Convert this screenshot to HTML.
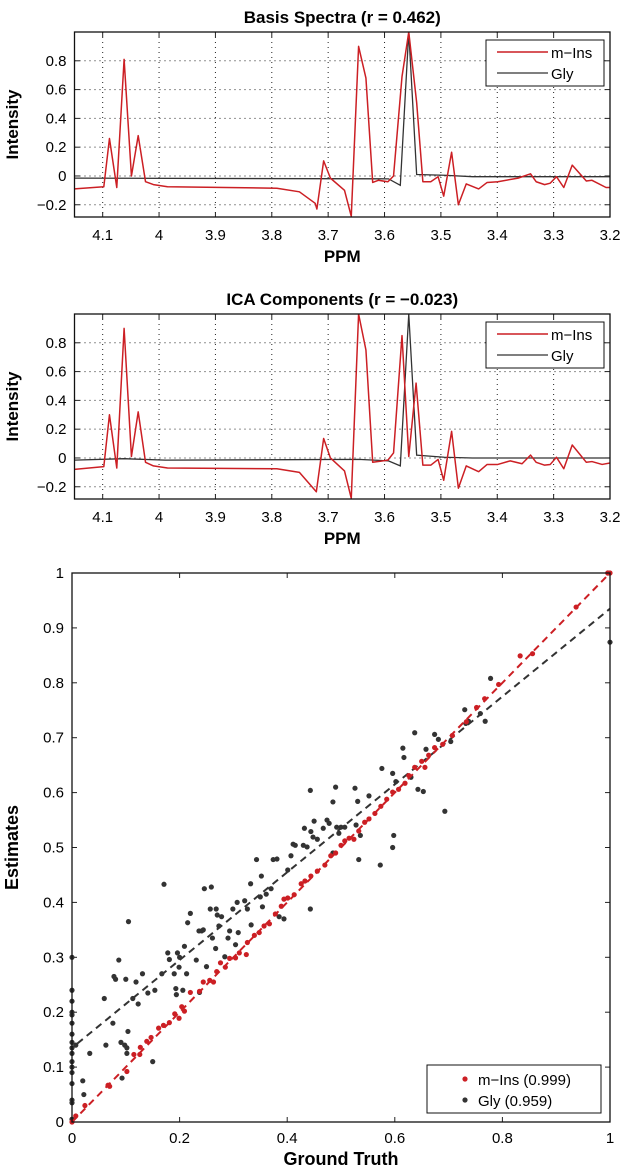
<!DOCTYPE html>
<html><head><meta charset="utf-8">
<style>
html,body{margin:0;padding:0;background:#fff;}
svg{display:block;font-family:"Liberation Sans",Arial,sans-serif;}
</style></head>
<body>
<svg id="fig" width="625" height="1172" viewBox="0 0 625 1172" xmlns="http://www.w3.org/2000/svg"></svg>
<script>
// ---- Spectra data ----
const basisInsPpm = [4.151,4.098,4.088,4.075,4.062,4.049,4.037,4.024,4.010,3.985,3.791,3.751,3.723,3.720,3.708,3.696,3.671,3.659,3.646,3.633,3.621,3.611,3.594,3.584,3.569,3.557,3.543,3.532,3.518,3.505,3.495,3.481,3.469,3.455,3.433,3.418,3.399,3.363,3.341,3.331,3.316,3.306,3.295,3.282,3.267,3.242,3.232,3.207,3.2];
const basisInsVal = [-0.09,-0.075,0.26,-0.08,0.81,0,0.28,-0.04,-0.06,-0.075,-0.085,-0.11,-0.19,-0.23,0.105,-0.015,-0.10,-0.28,0.90,0.68,-0.045,-0.03,-0.04,0,0.69,1.0,0.51,-0.04,-0.04,-0.005,-0.14,0.165,-0.2,-0.055,-0.09,-0.045,-0.04,-0.015,0.015,-0.04,-0.06,-0.05,-0.005,-0.08,0.075,-0.035,-0.03,-0.08,-0.08];
const basisGlyPpm = [4.151,3.593,3.572,3.557,3.543,3.494,3.444,3.2];
const basisGlyVal = [-0.015,-0.02,-0.065,1.0,0.01,0.005,-0.005,-0.005];

const icaInsPpm = [4.151,4.098,4.088,4.075,4.062,4.049,4.037,4.024,4.010,3.985,3.791,3.751,3.721,3.708,3.696,3.671,3.659,3.646,3.633,3.621,3.594,3.584,3.569,3.557,3.544,3.532,3.518,3.505,3.495,3.481,3.469,3.455,3.433,3.418,3.399,3.377,3.356,3.341,3.331,3.316,3.306,3.295,3.282,3.267,3.242,3.232,3.214,3.2];
const icaInsVal = [-0.08,-0.06,0.30,-0.07,0.90,0.01,0.32,-0.03,-0.055,-0.07,-0.075,-0.1,-0.235,0.135,0,-0.09,-0.28,1.0,0.75,-0.03,-0.015,0.035,0.85,0.01,0.52,-0.05,-0.05,-0.01,-0.155,0.185,-0.21,-0.055,-0.095,-0.045,-0.045,-0.02,-0.04,0.02,-0.03,-0.05,-0.045,0.005,-0.075,0.09,-0.03,-0.025,-0.045,-0.035];
const icaGlyPpm = [4.151,4.062,3.989,3.646,3.593,3.572,3.557,3.543,3.494,3.444,3.2];
const icaGlyVal = [-0.015,-0.005,-0.015,-0.01,-0.02,-0.055,1.0,0.02,0.005,0,0];

const ppmTicks = [4.1,4.0,3.9,3.8,3.7,3.6,3.5,3.4,3.3,3.2];
const ppmTickLabels = ["4.1","4","3.9","3.8","3.7","3.6","3.5","3.4","3.3","3.2"];
const intTicks = [-0.2,0,0.2,0.4,0.6,0.8];
const intTickLabels = ["\u22120.2","0","0.2","0.4","0.6","0.8"];

// ---- Scatter data ----
const glyTruth = [0,0,0,0,0,0,0,0,0,0,0,0,0,0,0,0,0,0.007,0.02,0.022,0.033,0.06,0.063,0.076,0.078,0.081,0.087,0.091,0.093,0.098,0.1,0.102,0.102,0.104,0.105,0.113,0.119,0.123,0.131,0.141,0.15,0.154,0.167,0.171,0.178,0.181,0.19,0.193,0.194,0.196,0.199,0.2,0.206,0.209,0.213,0.215,0.22,0.231,0.236,0.237,0.241,0.244,0.246,0.25,0.257,0.259,0.261,0.267,0.268,0.27,0.273,0.278,0.284,0.29,0.293,0.299,0.304,0.307,0.309,0.321,0.326,0.332,0.333,0.343,0.35,0.352,0.354,0.361,0.37,0.374,0.381,0.385,0.394,0.401,0.407,0.411,0.415,0.43,0.432,0.437,0.443,0.443,0.444,0.448,0.45,0.456,0.467,0.474,0.478,0.485,0.485,0.49,0.492,0.496,0.5,0.507,0.526,0.528,0.533,0.531,0.536,0.552,0.573,0.576,0.596,0.598,0.596,0.602,0.615,0.617,0.63,0.637,0.643,0.653,0.658,0.674,0.681,0.693,0.704,0.73,0.732,0.737,0.759,0.768,0.778,0.996,1];
const glyEst = [0.30,0.24,0.22,0.2,0.195,0.18,0.16,0.145,0.135,0.125,0.11,0.10,0.09,0.07,0.04,0.035,0.005,0.14,0.075,0.05,0.125,0.225,0.14,0.18,0.265,0.26,0.295,0.145,0.08,0.14,0.26,0.135,0.125,0.165,0.365,0.225,0.255,0.215,0.27,0.235,0.11,0.24,0.27,0.433,0.308,0.296,0.27,0.243,0.232,0.308,0.282,0.3,0.24,0.32,0.27,0.363,0.38,0.295,0.348,0.236,0.348,0.35,0.425,0.283,0.388,0.428,0.335,0.316,0.388,0.377,0.357,0.374,0.301,0.335,0.348,0.388,0.323,0.4,0.345,0.403,0.388,0.434,0.359,0.478,0.41,0.448,0.392,0.415,0.425,0.478,0.479,0.374,0.37,0.459,0.485,0.506,0.504,0.504,0.535,0.501,0.604,0.388,0.529,0.519,0.548,0.515,0.535,0.55,0.544,0.49,0.583,0.61,0.537,0.526,0.537,0.537,0.608,0.541,0.478,0.584,0.522,0.594,0.468,0.644,0.5,0.522,0.635,0.62,0.681,0.664,0.628,0.709,0.606,0.602,0.679,0.706,0.697,0.566,0.693,0.751,0.726,0.73,0.744,0.73,0.808,1.0,0.874];
const insTruth = [0,0.007,0.024,0.067,0.07,0.102,0.115,0.126,0.127,0.139,0.147,0.161,0.17,0.181,0.191,0.199,0.204,0.209,0.22,0.237,0.244,0.256,0.263,0.269,0.276,0.285,0.293,0.304,0.311,0.324,0.326,0.339,0.348,0.357,0.367,0.378,0.389,0.394,0.401,0.413,0.426,0.433,0.444,0.456,0.47,0.481,0.49,0.5,0.507,0.515,0.524,0.533,0.544,0.552,0.563,0.574,0.585,0.596,0.607,0.619,0.626,0.637,0.65,0.656,0.663,0.674,0.689,0.707,0.733,0.752,0.767,0.793,0.833,0.856,0.937,0.996,1];
const insEst = [0,0.011,0.03,0.067,0.065,0.092,0.123,0.123,0.136,0.147,0.154,0.171,0.176,0.181,0.197,0.189,0.21,0.202,0.236,0.238,0.255,0.258,0.255,0.274,0.29,0.282,0.298,0.299,0.308,0.305,0.327,0.34,0.345,0.357,0.361,0.379,0.393,0.406,0.408,0.414,0.434,0.439,0.448,0.457,0.468,0.485,0.49,0.504,0.512,0.517,0.515,0.53,0.546,0.552,0.562,0.575,0.588,0.601,0.606,0.617,0.631,0.646,0.657,0.646,0.668,0.682,0.688,0.704,0.729,0.755,0.771,0.797,0.849,0.853,0.938,1.0,1];
const insFit = [0.0, 1.0];
const glyFit = [0.135, 0.935];
const gtTicks = [0,0.2,0.4,0.6,0.8,1];
const gtTickLabels = ["0","0.2","0.4","0.6","0.8","1"];
const estTicks = [0,0.1,0.2,0.3,0.4,0.5,0.6,0.7,0.8,0.9,1];
const estTickLabels = ["0","0.1","0.2","0.3","0.4","0.5","0.6","0.7","0.8","0.9","1"];

const NS = "http://www.w3.org/2000/svg";
const svg = document.getElementById('fig');
function el(tag, attrs, parent){
  const e = document.createElementNS(NS, tag);
  for (const k in attrs) e.setAttribute(k, attrs[k]);
  (parent||svg).appendChild(e);
  return e;
}
const RED = "#cc1f24", DARK = "#333333";

function spectrum(top, title, insP, insV, glyP, glyV, key){
  const L = 74.5, R = 610, T = top, B = top + 185;
  const xs = p => L + (4.15 - p) / (4.15 - 3.2) * (R - L);
  const ys = v => B - (v + 0.285) / (1.0 + 0.285) * (B - T);
  const g = el('g', {});
  
  
  const t = el('text', {x: (L+R)/2, y: T-9, 'text-anchor':'middle', 'font-size':17, 'font-weight':'bold'}, g);
  t.textContent = title;
  
  
  ppmTicks.forEach((p,i) => {
    const x = xs(p);
    const gl = el('line', {x1:x, x2:x, y1:T, y2:B, stroke:'#222', 'stroke-width':1, 'stroke-dasharray':'1 4'}, g);
    
    
    el('line', {x1:x, x2:x, y1:B, y2:B-5, stroke:'#222'}, g);
    el('line', {x1:x, x2:x, y1:T, y2:T+5, stroke:'#222'}, g);
    const tl = el('text', {x:x, y:B+23, 'text-anchor':'middle', 'font-size':15}, g);
    tl.textContent = ppmTickLabels[i];
    
    
  });
  intTicks.forEach((v,i) => {
    const y = ys(v);
    const gl = el('line', {x1:L, x2:R, y1:y, y2:y, stroke:'#222', 'stroke-width':1, 'stroke-dasharray':'1 4'}, g);
    
    
    el('line', {x1:L, x2:L+5, y1:y, y2:y, stroke:'#222'}, g);
    el('line', {x1:R, x2:R-5, y1:y, y2:y, stroke:'#222'}, g);
    const tl = el('text', {x:L-8, y:y+5, 'text-anchor':'end', 'font-size':15}, g);
    tl.textContent = intTickLabels[i];
    
    
  });
  const clipId = 'clip' + key;
  const cp = el('clipPath', {id: clipId}, g);
  el('rect', {x:L, y:T, width:R-L, height:B-T}, cp);
  const gp = el('polyline', {points: glyP.map((p,i)=>xs(p)+','+ys(glyV[i])).join(' '), fill:'none', stroke:DARK, 'stroke-width':1.3, 'clip-path':'url(#'+clipId+')'}, g);
  
  
  const ip = el('polyline', {points: insP.map((p,i)=>xs(p)+','+ys(insV[i])).join(' '), fill:'none', stroke:RED, 'stroke-width':1.5, 'stroke-linejoin':'round', 'clip-path':'url(#'+clipId+')'}, g);
  
  
  const box = el('rect', {x:L, y:T, width:R-L, height:B-T, fill:'none', stroke:'#111', 'stroke-width':1.3}, g);
  
  
  const lg = el('g', {}, g);
  
  
  el('rect', {x:486, y:T+8, width:118, height:46, fill:'#fff', stroke:'#111', 'stroke-width':1}, lg);
  el('line', {x1:497, x2:548, y1:T+20, y2:T+20, stroke:RED, 'stroke-width':1.5}, lg);
  el('line', {x1:497, x2:548, y1:T+41, y2:T+41, stroke:DARK, 'stroke-width':1.3}, lg);
  const l1 = el('text', {x:551, y:T+26, 'font-size':15}, lg); l1.textContent = 'm\u2212Ins';
  
  
  const l2 = el('text', {x:551, y:T+47, 'font-size':15}, lg); l2.textContent = 'Gly';
  
  
  const xl = el('text', {x:(L+R)/2, y:B+45, 'text-anchor':'middle', 'font-size':17, 'font-weight':'bold'}, g);
  xl.textContent = 'PPM';
  
  
  const yl = el('text', {x:0, y:0, 'text-anchor':'middle', 'font-size':17, 'font-weight':'bold', transform:'translate(18,'+((T+B)/2)+') rotate(-90)'}, g);
  yl.textContent = 'Intensity';
  
  
}
spectrum(32, 'Basis Spectra (r = 0.462)', basisInsPpm, basisInsVal, basisGlyPpm, basisGlyVal, 'basis');
spectrum(314, 'ICA Components (r = \u22120.023)', icaInsPpm, icaInsVal, icaGlyPpm, icaGlyVal, 'ica');

(function(){
  const L = 72, R = 610, T = 573, B = 1122;
  const xs = v => L + v * (R - L);
  const ys = v => B - v * (B - T);
  const g = el('g', {});
  
  
  gtTicks.forEach((v,i)=>{
    const x = xs(v);
    el('line', {x1:x,x2:x,y1:B,y2:B-5,stroke:'#222'}, g);
    el('line', {x1:x,x2:x,y1:T,y2:T+5,stroke:'#222'}, g);
    const tl = el('text', {x:x, y:B+21, 'text-anchor':'middle', 'font-size':15}, g);
    tl.textContent = gtTickLabels[i];
    
    
  });
  estTicks.forEach((v,i)=>{
    const y = ys(v);
    el('line', {x1:L,x2:L+5,y1:y,y2:y,stroke:'#222'}, g);
    el('line', {x1:R,x2:R-5,y1:y,y2:y,stroke:'#222'}, g);
    const tl = el('text', {x:L-8, y:y+5, 'text-anchor':'end', 'font-size':15}, g);
    tl.textContent = estTickLabels[i];
    
    
  });
  const fg = el('line', {x1:xs(0.01), y1:ys(glyFit[0]+0.01*(glyFit[1]-glyFit[0])), x2:xs(1), y2:ys(glyFit[1]), stroke:DARK, 'stroke-width':2, 'stroke-dasharray':'7 5'}, g);
  
  
  glyTruth.forEach((v,i)=>{
    const c = el('circle', {cx:xs(v), cy:ys(glyEst[i]), r:2.6, fill:DARK}, g);
    
    
  });
  insTruth.forEach((v,i)=>{
    const c = el('circle', {cx:xs(v), cy:ys(insEst[i]), r:2.6, fill:RED}, g);
    
    
  });
  const fi = el('line', {x1:xs(0), y1:ys(insFit[0]), x2:xs(1), y2:ys(insFit[1]), stroke:RED, 'stroke-width':2, 'stroke-dasharray':'7 5'}, g);
  
  
  const box = el('rect', {x:L, y:T, width:R-L, height:B-T, fill:'none', stroke:'#111', 'stroke-width':1.3}, g);
  
  
  const lg = el('g', {}, g);
  
  
  el('rect', {x:427, y:1065, width:174, height:48, fill:'#fff', stroke:'#111', 'stroke-width':1}, lg);
  el('circle', {cx:465, cy:1079, r:2.6, fill:RED}, lg);
  el('circle', {cx:465, cy:1100, r:2.6, fill:DARK}, lg);
  const l1 = el('text', {x:478, y:1085, 'font-size':15}, lg); l1.textContent = 'm\u2212Ins (0.999)';
  
  
  const l2 = el('text', {x:478, y:1106, 'font-size':15}, lg); l2.textContent = 'Gly (0.959)';
  
  
  const xl = el('text', {x:(L+R)/2, y:1165, 'text-anchor':'middle', 'font-size':18, 'font-weight':'bold'}, g);
  xl.textContent = 'Ground Truth';
  
  
  const yl = el('text', {x:0, y:0, 'text-anchor':'middle', 'font-size':18, 'font-weight':'bold', transform:'translate(18,'+((T+B)/2)+') rotate(-90)'}, g);
  yl.textContent = 'Estimates';
  
  
})();
</script>
</body></html>
